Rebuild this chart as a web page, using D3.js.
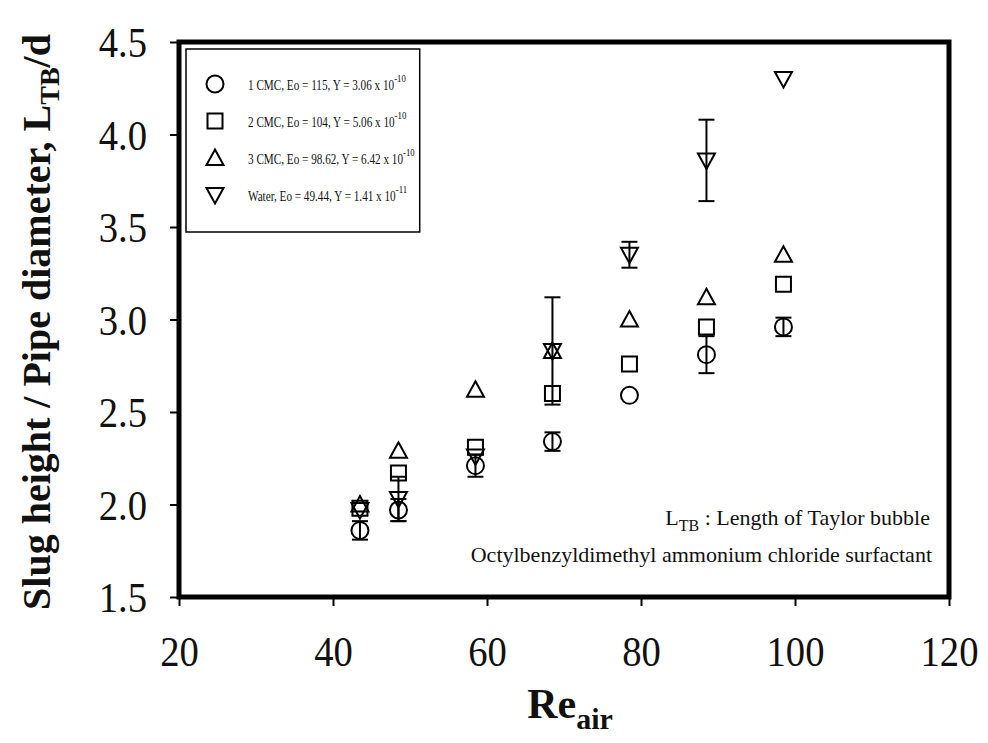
<!DOCTYPE html>
<html><head><meta charset="utf-8">
<script src="https://cdn.jsdelivr.net/npm/d3@7"></script>
<style>body{margin:0;background:#fff}svg{display:block}text{font-family:"Liberation Serif","Times New Roman",serif;fill:#111}</style>
</head><body><svg id="c" width="988" height="743"></svg>
<script>
const reAir = [43.5, 48.5, 58.5, 68.5, 78.5, 88.5, 98.5];
const cmc1 = [1.86, 1.97, 2.21, 2.34, 2.59, 2.81, 2.96];
const cmc1Err = [0.05, 0.06, 0.06, 0.05, 0, 0.1, 0.05];
const cmc2 = [1.98, 2.17, 2.31, 2.60, 2.76, 2.96, 3.19];
const cmc2Err = [0, 0, 0, 0, 0, 0, 0];
const cmc3 = [2.00, 2.29, 2.62, 2.83, 3.00, 3.12, 3.35];
const cmc3Err = [0, 0, 0, 0, 0, 0, 0];
const water = [1.97, 2.03, 2.26, 2.83, 3.35, 3.86, 4.30];
const waterErr = [0, 0.12, 0, 0.29, 0.07, 0.22, 0];
const xTicks = [20, 40, 60, 80, 100, 120];
const yTicks = [1.5, 2.0, 2.5, 3.0, 3.5, 4.0, 4.5];
const legendLabels = [
  ["1 CMC, Eo = 115, Y = 3.06 x 10", "-10"],
  ["2 CMC, Eo = 104, Y = 5.06 x 10", "-10"],
  ["3 CMC, Eo = 98.62, Y = 6.42 x 10", "-10"],
  ["Water, Eo = 49.44, Y =  1.41 x 10", "-11"]
];
const symbolTypes = ["circle", "square", "triangle", "down"];

const series = [
  {vals: cmc1, err: cmc1Err, sym: "circle"},
  {vals: cmc2, err: cmc2Err, sym: "square"},
  {vals: cmc3, err: cmc3Err, sym: "triangle"},
  {vals: water, err: waterErr, sym: "down"}
];

const svg = d3.select("#c");
const L = 179, R = 949, T = 42, B = 597;
const x = d3.scaleLinear().domain([20, 120]).range([L, R]);
const y = d3.scaleLinear().domain([1.5, 4.5]).range([B, T]);

function symPath(type) {
  if (type === "circle") return "M8.5,0A8.5,8.5 0 1,1 -8.5,0A8.5,8.5 0 1,1 8.5,0Z";
  if (type === "square") return "M-7.5,-7.5H7.5V7.5H-7.5Z";
  if (type === "triangle") return "M0,-8.5L8.5,7L-8.5,7Z";
  return "M0,8.5L8.5,-7L-8.5,-7Z";
}

// frame
svg.append("rect").attr("x", L).attr("y", T).attr("width", R - L).attr("height", B - T)
  .attr("fill", "none").attr("stroke", "#000").attr("stroke-width", 5);

// axes
const xAxis = d3.axisBottom(x).tickValues(xTicks).tickSize(9).tickFormat(d3.format("d"));
const gx = svg.append("g").attr("transform", `translate(0,${B})`).call(xAxis);
gx.select(".domain").remove();
gx.selectAll("line").attr("stroke", "#000").attr("stroke-width", 2);
gx.selectAll("text").attr("dy", null).attr("y", 0)
  .attr("transform", "translate(0,69) scale(0.92,1)").style("font-size", "42px");

const yAxis = d3.axisLeft(y).tickValues(yTicks).tickSize(9).tickFormat(d3.format(".1f"));
const gy = svg.append("g").attr("transform", `translate(${L},0)`).call(yAxis);
gy.select(".domain").remove();
gy.selectAll("line").attr("stroke", "#000").attr("stroke-width", 2);
gy.selectAll("text").attr("x", 0).attr("dy", "0.35em")
  .attr("transform", "translate(-32,0) scale(0.92,1)").style("font-size", "42px");

// error bars and markers
const plot = svg.append("g");
series.forEach(s => {
  s.vals.forEach((v, i) => {
    const e = s.err[i];
    if (e > 0) {
      const cx = x(reAir[i]);
      const g = plot.append("g").attr("stroke", "#000").attr("stroke-width", 2);
      g.append("line").attr("x1", cx).attr("x2", cx).attr("y1", y(v - e)).attr("y2", y(v + e));
      g.append("line").attr("x1", cx - 8).attr("x2", cx + 8).attr("y1", y(v - e)).attr("y2", y(v - e));
      g.append("line").attr("x1", cx - 8).attr("x2", cx + 8).attr("y1", y(v + e)).attr("y2", y(v + e));
    }
  });
});
series.forEach(s => {
  plot.selectAll(null).data(s.vals).enter().append("path")
    .attr("d", symPath(s.sym))
    .attr("transform", (d, i) => `translate(${x(reAir[i])},${y(d)})`)
    .attr("fill", "none").attr("stroke", "#000").attr("stroke-width", 2);
});

// legend
const lg = svg.append("g");
const rowsY = [90, 127, 164, 201];
const sx = 0.8;
let maxW = 0;
legendLabels.forEach((lab, i) => {
  lg.append("path").attr("d", symPath(symbolTypes[i]))
    .attr("transform", `translate(215,${rowsY[i] - 6})`)
    .attr("fill", "none").attr("stroke", "#000").attr("stroke-width", 2);
  const t = lg.append("text").attr("transform", `translate(248,${rowsY[i]}) scale(${sx},1)`)
    .style("font-size", "14px");
  t.append("tspan").text(lab[0]);
  t.append("tspan").attr("dy", -8).style("font-size", "11px").text(lab[1]);
  maxW = Math.max(maxW, t.node().getComputedTextLength() * sx);
});
lg.insert("rect", ":first-child").attr("x", 186).attr("y", 49).attr("width", 248 + maxW + 5 - 186).attr("height", 183)
  .attr("fill", "#fff").attr("stroke", "#000").attr("stroke-width", 1.5);

// annotations
const a1 = svg.append("text").attr("x", 930).attr("y", 525).attr("text-anchor", "end").style("font-size", "22px");
a1.append("tspan").text("L");
a1.append("tspan").attr("dy", 6).style("font-size", "16px").text("TB");
a1.append("tspan").attr("dy", -6).text(" : Length of Taylor bubble");
svg.append("text").attr("x", 932).attr("y", 562).attr("text-anchor", "end").style("font-size", "22px")
  .text("Octylbenzyldimethyl ammonium chloride surfactant");

// axis titles
const xt = svg.append("text").attr("x", 570).attr("y", 718).attr("text-anchor", "middle")
  .style("font-size", "42px").style("font-weight", "bold");
xt.append("tspan").text("Re");
xt.append("tspan").attr("dy", 11).style("font-size", "30px").text("air");

const yt = svg.append("text").attr("transform", `translate(50,322) rotate(-90)`)
  .attr("text-anchor", "middle").style("font-size", "40px").style("font-weight", "bold");
yt.append("tspan").text("Slug height / Pipe diameter, L");
yt.append("tspan").attr("dy", 9).style("font-size", "28px").text("TB");
yt.append("tspan").attr("dy", -9).text("/d");
</script></body></html>
